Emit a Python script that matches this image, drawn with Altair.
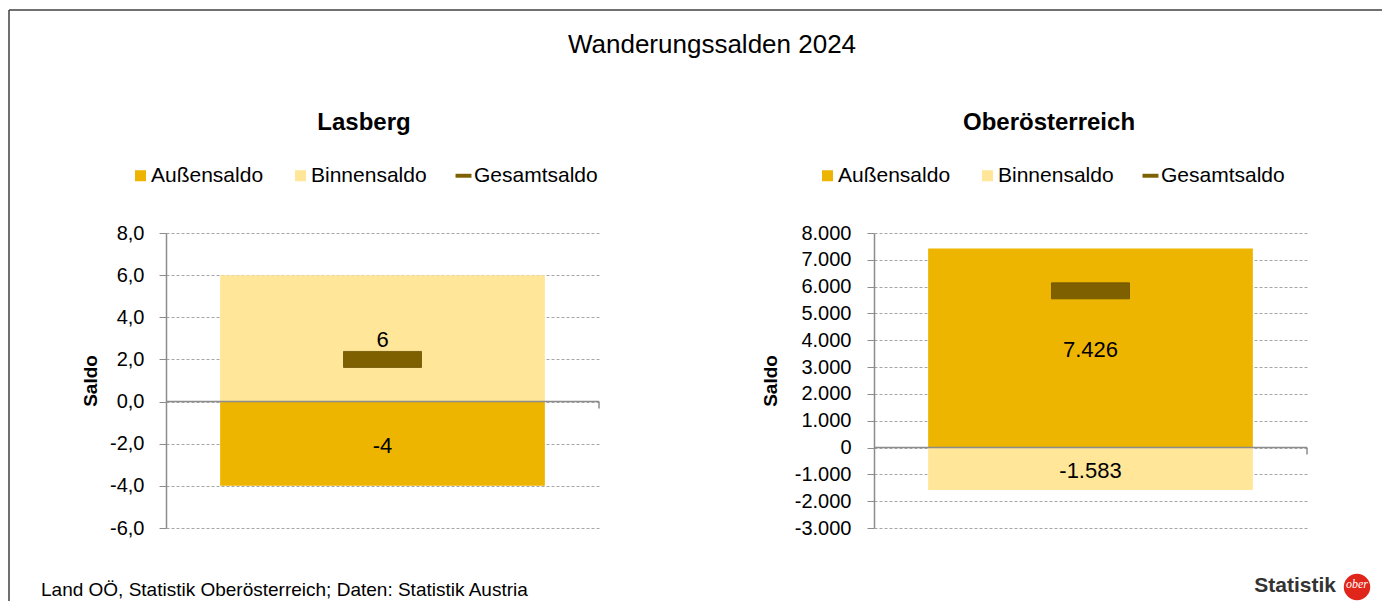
import altair as alt
import pandas as pd

# ---- data ----
regions = ["Lasberg", "Oberösterreich"]
components = ["Außensaldo", "Binnensaldo", "Gesamtsaldo"]
aussensaldo = [-4, 7426]
binnensaldo = [6, -1583]
gesamtsaldo = [2, 5843]
y_domains = [[-6, 8], [-3000, 8000]]
y_ticks = [[-6, -4, -2, 0, 2, 4, 6, 8],
           [-3000, -2000, -1000, 0, 1000, 2000, 3000, 4000, 5000, 6000, 7000, 8000]]
main_title = "Wanderungssalden 2024"
footer = "Land OÖ, Statistik Oberösterreich; Daten: Statistik Austria"

colors = ["#EEB500", "#FFE699", "#7F6000"]
FONT = "Liberation Sans"

W, H = 433, 295


def panel(i, fmt_expr, label_expr, legend_x, title_x, label_pad, title_pad, decor=False):
    name = regions[i]
    df = pd.DataFrame({
        "Region": [name, name],
        "Komponente": components[:2],
        "Wert": [aussensaldo[i], binnensaldo[i]],
    })
    gdf = pd.DataFrame({"Region": [name], "Komponente": [components[2]], "Wert": [gesamtsaldo[i]]})

    xenc = alt.X("Region:N", scale=alt.Scale(paddingInner=0.25, paddingOuter=0.125), axis=None)
    yscale = alt.Scale(domain=y_domains[i], nice=False, zero=False)
    color_scale = alt.Scale(domain=components, range=colors)

    yaxis = alt.Axis(values=y_ticks[i], tickCount=30, labelOverlap=False, grid=True,
                     gridDash=[3, 2], gridColor="#A6A6A6",
                     gridWidth=1, domainColor="#8C8C8C", domainWidth=1.5, tickColor="#8C8C8C",
                     tickSize=7, tickWidth=1, labelFont=FONT, labelFontSize=20, labelColor="#000000",
                     labelPadding=label_pad, labelExpr=label_expr, title="Saldo", titleFont=FONT,
                     titleFontSize=19, titleFontWeight="bold", titleColor="#000000",
                     titlePadding=title_pad)

    bar_layers = []
    for k, comp in enumerate(components[:2]):
        if k == 0:
            yenc = alt.Y("Wert:Q", scale=yscale, axis=yaxis)
        else:
            yenc = alt.Y("Wert:Q", scale=yscale)
        bar_layers.append(
            alt.Chart(df).transform_filter(alt.datum.Komponente == comp).mark_bar(color=colors[k]).encode(
                x=xenc, y=yenc, y2=alt.datum(0),
            )
        )
    zero = alt.Chart(df.head(1)).mark_rule(color="#8C8C8C", strokeWidth=1.5).encode(
        x=alt.value(0), x2=alt.value(W), y=alt.datum(0)
    )
    endtick = alt.Chart(df.head(1)).mark_rule(color="#8C8C8C", strokeWidth=1.5, y2Offset=7).encode(
        x=alt.value(W), y=alt.datum(0), y2=alt.datum(0)
    )
    marker = alt.Chart(gdf).mark_tick(orient="horizontal", size=78, thickness=16, opacity=1,
                                      color=colors[2], stroke="#6A5000", strokeWidth=0.8).encode(
        x=xenc,
        y=alt.Y("Wert:Q", scale=yscale),
    )
    labels = alt.Chart(df).transform_calculate(
        mid="datum.Wert / 2", lbl=fmt_expr
    ).mark_text(font=FONT, fontSize=22, color="#000000", dy=2).encode(
        x=xenc, y=alt.Y("mid:Q", scale=yscale), text="lbl:N"
    )
    legend_layer = alt.Chart(df).transform_filter("false").mark_point(filled=True, opacity=1).encode(
        color=alt.Color("Komponente:N", scale=color_scale,
                        legend=alt.Legend(title=None, orient="none", legendX=legend_x, legendY=-68,
                                          direction="horizontal", labelFont=FONT, labelFontSize=21,
                                          labelColor="#000000", symbolSize=121, symbolOpacity=1,
                                          symbolStrokeWidth=0, labelOffset=0, columnPadding=26)),
        shape=alt.Shape("Komponente:N",
                        scale=alt.Scale(domain=components,
                                        range=["square", "square", "M-1.45,-0.36H1.45V0.36H-1.45Z"])),
    )
    subtitle = alt.Chart(pd.DataFrame({"t": [name]})).mark_text(
        font=FONT, fontSize=24, fontWeight="bold", color="#000000", align="center", baseline="middle"
    ).encode(text="t:N", x=alt.value(title_x), y=alt.value(-110))

    layers = bar_layers + [zero, endtick, marker, labels, legend_layer, subtitle]
    if decor:
        one = pd.DataFrame({"t": [main_title]})
        frame_top = alt.Chart(one).mark_rule(color="#404040", strokeWidth=1.5).encode(
            x=alt.value(-157), x2=alt.value(1216), y=alt.value(-223))
        frame_left = alt.Chart(one).mark_rule(color="#404040", strokeWidth=1.5).encode(
            x=alt.value(-157), y=alt.value(-223), y2=alt.value(368))
        ttl = alt.Chart(one).mark_text(font=FONT, fontSize=26, color="#000000", align="center",
                                       baseline="middle").encode(
            text="t:N", x=alt.value(546), y=alt.value(-188))
        foot = alt.Chart(pd.DataFrame({"t": [footer]})).mark_text(
            font=FONT, fontSize=19, color="#000000", align="left", baseline="middle").encode(
            text="t:N", x=alt.value(-125), y=alt.value(357))
        logo_t = alt.Chart(pd.DataFrame({"t": ["Statistik"]})).mark_text(
            font=FONT, fontSize=21, fontWeight="bold", color="#333333", align="right",
            baseline="middle").encode(text="t:N", x=alt.value(1170), y=alt.value(353))
        logo_c = alt.Chart(pd.DataFrame({"t": ["ober"]})).mark_circle(
            size=700, color="#E0261B", opacity=1).encode(x=alt.value(1191), y=alt.value(354))
        logo_w = alt.Chart(pd.DataFrame({"t": ["ober"]})).mark_text(
            font="Liberation Serif", fontSize=12, fontStyle="italic", color="#FFFFFF",
            baseline="middle").encode(text="t:N", x=alt.value(1191), y=alt.value(351))
        layers += [frame_top, frame_left, ttl, foot, logo_t, logo_c, logo_w]

    return alt.layer(*layers).properties(width=W, height=H)


left = panel(0,
             "replace(replace(format(datum.Wert, ',.0f'), ',', '.'), '\u2212', '-')",
             "replace(replace(format(datum.value, '.1f'), '.', ','), '\u2212', '-')",
             legend_x=-36, title_x=198, label_pad=15, title_pad=9, decor=True)
right = panel(1,
              "replace(replace(format(datum.Wert, ',.0f'), ',', '.'), '\u2212', '-')",
              "replace(replace(format(datum.value, ',.0f'), ',', '.'), '\u2212', '-')",
              legend_x=-57, title_x=175, label_pad=16, title_pad=14)

chart = alt.hconcat(left, right, spacing=275, bounds="flush").resolve_scale(
    color="independent", shape="independent"
).resolve_legend(
    color="independent", shape="independent"
).properties(
    padding={"left": 0, "top": 1, "right": 0, "bottom": 0}
).configure(background="#FFFFFF").configure_view(stroke=None)

chart.save("out.html", embed_options={"renderer": "svg", "actions": False})
